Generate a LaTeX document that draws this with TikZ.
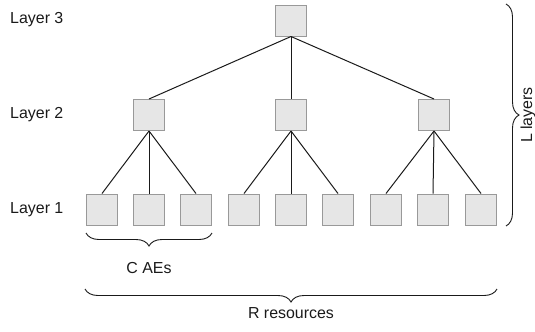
\documentclass[tikz,border=0pt]{standalone}
\usepackage{fontspec}
\setmainfont{Liberation Sans}
\usetikzlibrary{decorations.pathreplacing}
\definecolor{boxfill}{HTML}{E6E6E6}
\definecolor{boxline}{HTML}{999999}
\definecolor{ink}{HTML}{1A1A1A}
\begin{document}
\begin{tikzpicture}[x=1bp,y=-1bp,
  unit/.style={draw=boxline,fill=boxfill,line width=1bp,minimum width=31bp,minimum height=31bp,inner sep=0pt},
  conn/.style={draw=ink,line width=1bp},
  lbl/.style={font=\fontsize{16}{19}\selectfont,text=ink,inner sep=0pt},
  brc/.style={draw=ink,line width=0.9bp,decorate,decoration={brace,amplitude=13bp}}]
\useasboundingbox (0,0) rectangle (535,331);
% layer labels
\node[lbl,anchor=west] (l3) at (10,20) {Layer 3};
\node[lbl,anchor=west] (l2) at (10,115) {Layer 2};
\node[lbl,anchor=west] (l1) at (10,210) {Layer 1};
% boxes
\node[unit] (t) at (291,20.5) {};
\node[unit] (m1) at (149,115) {};
\node[unit] (m2) at (291,115) {};
\node[unit] (m3) at (434,115) {};
\foreach \i/\x in {1/102,2/149,3/196,4/244,5/291,6/338,7/386,8/433,9/481}{
  \node[unit] (b\i) at (\x,209.5) {};
}
% connectors
\foreach \m in {m1,m2,m3}{ \draw[conn] (t.south) -- (\m.north); }
\foreach \i in {1,2,3}{ \draw[conn] (m1.south) -- (b\i.north); }
\foreach \i in {4,5,6}{ \draw[conn] (m2.south) -- (b\i.north); }
\foreach \i in {7,8,9}{ \draw[conn] (m3.south) -- (b\i.north); }
% braces
\coordinate (cA) at (212,233);
\coordinate (cB) at (86,233);
\draw[brc] (cA) -- (cB);
\node[lbl] (cae) at (149,268) {C AEs};
\coordinate (rA) at (497,289);
\coordinate (rB) at (85,289);
\draw[brc] (rA) -- (rB);
\node[lbl] (rr) at (291,313) {R resources};
\coordinate (lA) at (506,4);
\coordinate (lB) at (506,226);
\draw[brc] (lA) -- (lB);
\node[lbl,rotate=90] (ll) at (528,115) {L layers};
\end{tikzpicture}
\end{document}
